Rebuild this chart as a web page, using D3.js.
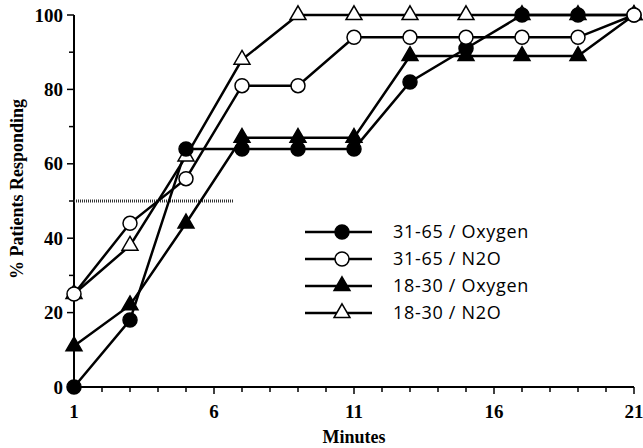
<!DOCTYPE html>
<html>
<head>
<meta charset="utf-8">
<script src="https://cdn.jsdelivr.net/npm/d3@7"></script>
<style>
  html, body { margin: 0; padding: 0; background: #fff; }
  svg { display: block; }
  .tick-label { font-family: "Liberation Serif", serif; font-weight: bold; font-size: 19px; fill: #000; }
  .axis-title { font-family: "Liberation Serif", serif; font-weight: bold; font-size: 18px; fill: #000; }
  .legend-label { font-family: "Open Sans", sans-serif; font-size: 18px; letter-spacing: 0.7px; fill: #000; }
</style>
</head>
<body>
<div id="chart"></div>
<script>
// data
const minutes = [1, 3, 5, 7, 9, 11, 13, 15, 17, 19, 21];
const oldOxygen = [0, 18, 64, 64, 64, 64, 82, 91, 100, 100, 100];
const oldN2O = [25, 44, 56, 81, 81, 94, 94, 94, 94, 94, 100];
const youngOxygen = [11, 22, 44, 67, 67, 67, 89, 89, 89, 89, 100];
const youngN2O = [25, 38, 62, 88, 100, 100, 100, 100, 100, 100, 100];
const xTicks = [1, 6, 11, 16, 21];
const yTicks = [0, 20, 40, 60, 80, 100];
const halfLine = [1, 6.7];   // dotted 50% reference line span (minutes)

const seriesList = [
  { name: "18-30 / Oxygen", values: youngOxygen, shape: "triangle", filled: true },
  { name: "18-30 / N2O", values: youngN2O, shape: "triangle", filled: false },
  { name: "31-65 / Oxygen", values: oldOxygen, shape: "circle", filled: true },
  { name: "31-65 / N2O", values: oldN2O, shape: "circle", filled: false }
];
const legendOrder = ["31-65 / Oxygen", "31-65 / N2O", "18-30 / Oxygen", "18-30 / N2O"];

const width = 643, height = 448;
const margin = { top: 15, right: 9, bottom: 61, left: 74 };

const svg = d3.select("#chart").append("svg")
  .attr("width", width)
  .attr("height", height);

const x = d3.scaleLinear().domain([1, 21]).range([margin.left, width - margin.right]);
const y = d3.scaleLinear().domain([0, 100]).range([height - margin.bottom, margin.top]);

// axes
const xAxis = svg.append("g").attr("transform", `translate(0,${y(0)})`);
xAxis.append("line")
  .attr("x1", x(1)).attr("x2", x(21))
  .attr("stroke", "#000").attr("stroke-width", 2);
xAxis.selectAll(".minor").data(d3.range(1, 22)).enter().append("line")
  .attr("x1", d => x(d)).attr("x2", d => x(d))
  .attr("y1", 0).attr("y2", d => xTicks.includes(d) ? 7 : 5)
  .attr("stroke", "#000").attr("stroke-width", 1.5);
xAxis.selectAll(".tick-label").data(xTicks).enter().append("text")
  .attr("class", "tick-label")
  .attr("x", d => x(d)).attr("y", 31)
  .attr("text-anchor", "middle")
  .text(d => d);

const yAxis = svg.append("g").attr("transform", `translate(${x(1)},0)`);
yAxis.append("line")
  .attr("y1", y(0)).attr("y2", y(100))
  .attr("stroke", "#000").attr("stroke-width", 2);
yAxis.selectAll(".minor").data(d3.range(0, 101, 10)).enter().append("line")
  .attr("y1", d => y(d)).attr("y2", d => y(d))
  .attr("x1", d => yTicks.includes(d) ? -7 : -5).attr("x2", 0)
  .attr("stroke", "#000").attr("stroke-width", 1.5);
yAxis.selectAll(".tick-label").data(yTicks).enter().append("text")
  .attr("class", "tick-label")
  .attr("x", -11).attr("y", d => y(d))
  .attr("dy", "0.35em")
  .attr("text-anchor", "end")
  .text(d => d);

svg.append("text")
  .attr("class", "axis-title")
  .attr("x", x(11)).attr("y", 443)
  .attr("text-anchor", "middle")
  .text("Minutes");

svg.append("text")
  .attr("class", "axis-title")
  .attr("transform", "translate(23,189) rotate(-90)")
  .attr("text-anchor", "middle")
  .text("% Patients Responding");

// dotted 50% line
svg.append("line")
  .attr("x1", x(halfLine[0])).attr("x2", x(halfLine[1]))
  .attr("y1", y(50)).attr("y2", y(50))
  .attr("stroke", "#333").attr("stroke-width", 3)
  .attr("stroke-dasharray", "1,1");

const line = d3.line().x((d, i) => x(minutes[i])).y(d => y(d));

function drawMarker(g, shape, filled) {
  if (shape === "circle") {
    g.append("circle").attr("r", 7);
  } else {
    g.append("path").attr("d", d3.symbol(d3.symbolTriangle, 110)());
  }
  g.selectAll("circle, path")
    .attr("fill", filled ? "#000" : "#fff")
    .attr("stroke", "#000")
    .attr("stroke-width", 1.5);
}

// lines first, then markers
seriesList.forEach(s => {
  svg.append("path")
    .datum(s.values)
    .attr("d", line)
    .attr("fill", "none")
    .attr("stroke", "#000")
    .attr("stroke-width", 2.5);
});

seriesList.forEach(s => {
  svg.append("g").selectAll("g").data(s.values).enter().append("g")
    .attr("transform", (d, i) => `translate(${x(minutes[i])},${y(d)})`)
    .each(function () { drawMarker(d3.select(this), s.shape, s.filled); });
});

// legend
const legend = svg.append("g").attr("transform", "translate(305,232)");
legendOrder.forEach((name, i) => {
  const s = seriesList.find(d => d.name === name);
  const row = legend.append("g").attr("transform", `translate(0,${i * 27})`);
  row.append("line")
    .attr("x1", 0).attr("x2", 67)
    .attr("stroke", "#000").attr("stroke-width", 2.5);
  const m = row.append("g").attr("transform", "translate(37,0)");
  drawMarker(m, s.shape, s.filled);
  row.append("text")
    .attr("class", "legend-label")
    .attr("x", 88).attr("dy", "0.35em")
    .text(name);
});
</script>
</body>
</html>
